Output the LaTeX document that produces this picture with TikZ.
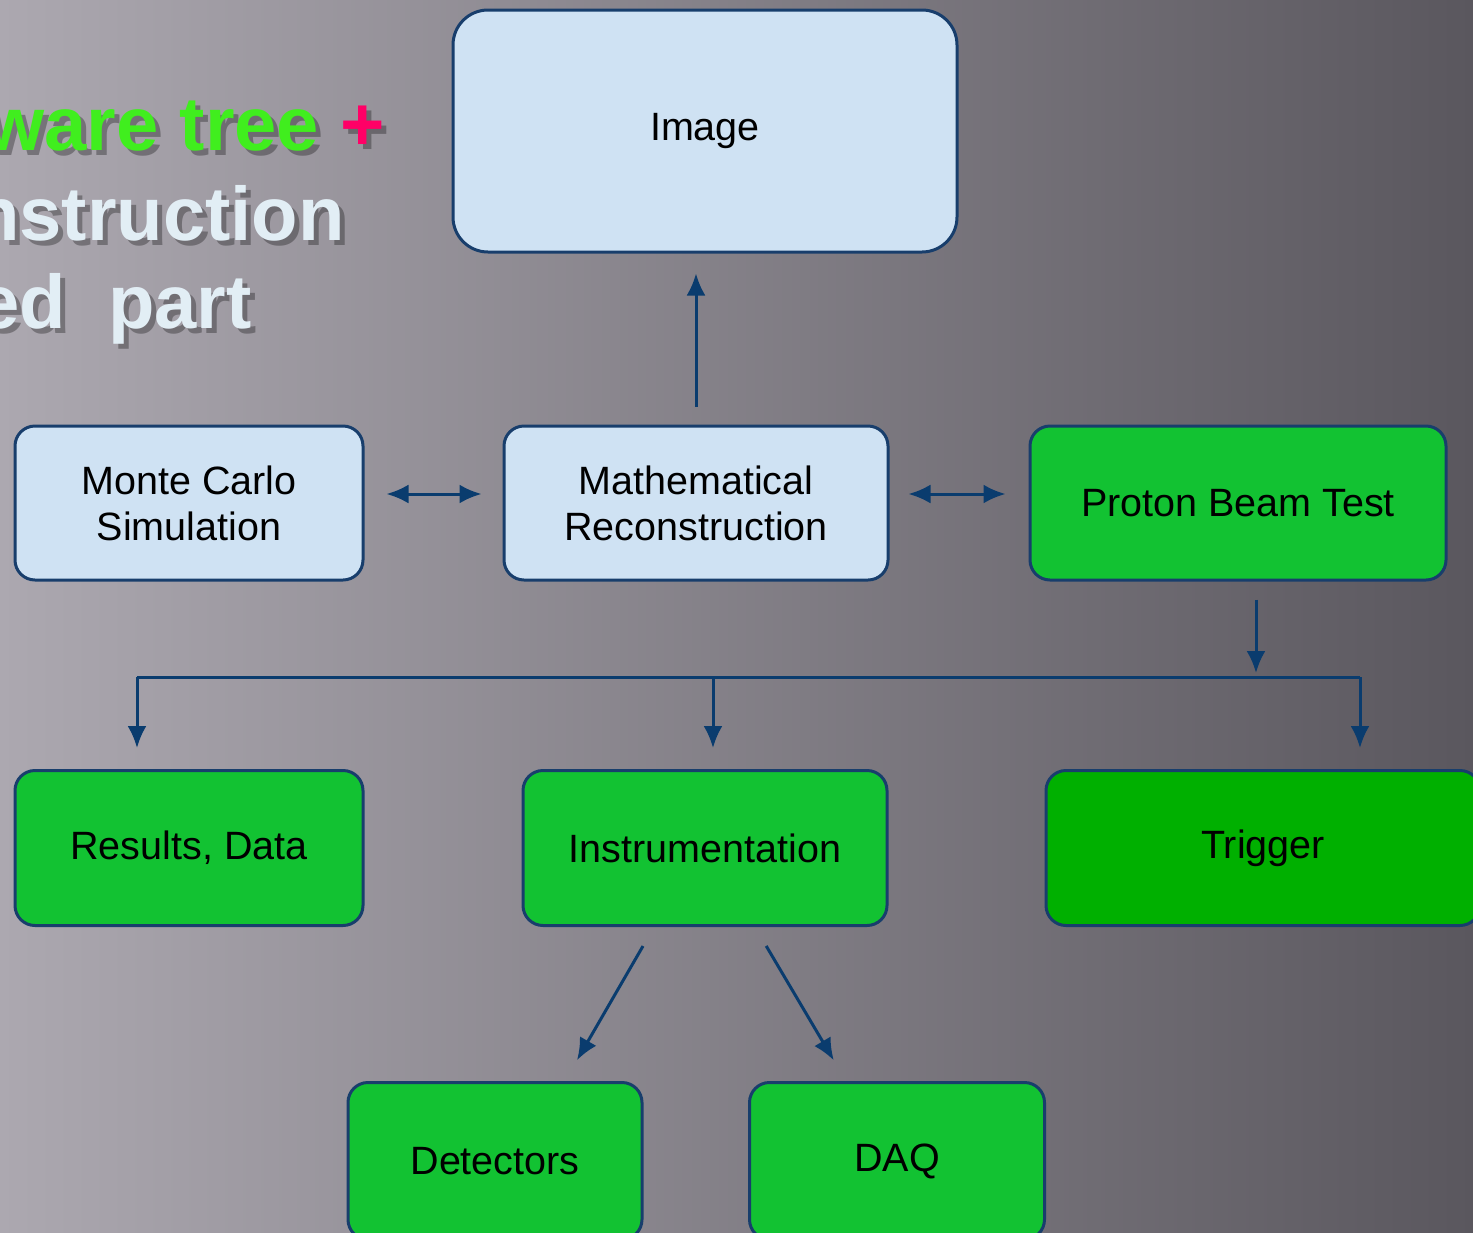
\documentclass[tikz,border=0pt]{standalone}
\usepackage{fontspec}
\setmainfont{Liberation Sans}
\usetikzlibrary{positioning,arrows.meta}
\definecolor{bgL}{RGB}{172,168,176}
\definecolor{bgM}{RGB}{138,134,142}
\definecolor{bgR}{RGB}{90,87,94}
\definecolor{boxblue}{RGB}{207,226,243}
\definecolor{boxgreen}{RGB}{18,194,50}
\definecolor{boxdark}{RGB}{0,176,0}
\definecolor{boxline}{RGB}{24,62,108}
\definecolor{arrcol}{RGB}{10,60,110}
\definecolor{headgreen}{RGB}{64,238,30}
\definecolor{headpink}{RGB}{255,0,102}
\definecolor{headwhite}{RGB}{226,238,245}
\begin{document}
\begin{tikzpicture}[x=1pt,y=-1pt,
  box/.style={draw=boxline,line width=3pt,rounded corners=20pt,inner sep=0pt,align=center,
    font=\fontsize{39.5}{46}\selectfont},
  bluebox/.style={box,fill=boxblue},
  greenbox/.style={box,fill=boxgreen},
  darkbox/.style={box,fill=boxdark},
  arr/.style={draw=arrcol,line width=3pt,-{Latex[length=22pt,width=19pt]}},
  twoarr/.style={draw=arrcol,line width=3pt,{Latex[length=22pt,width=19pt]}-{Latex[length=22pt,width=19pt]}},
  head/.style={anchor=base east,inner sep=0pt,font=\fontsize{76}{80}\selectfont\bfseries},
  shadow/.style={head,text=black,opacity=0.3}]
  % Frame and background
  \useasboundingbox (0,0) rectangle (1473,1232);
  \clip (0,0) rectangle (1473,1232);
  \shade[left color=bgL,middle color=bgM,right color=bgR] (0,0) rectangle (1473,1232);
  % Heading with shadow
  \node[shadow] (s1) at (390,155) {ware tree +};
  \node[shadow] (s2) at (350,245) {nstruction};
  \node[shadow] (s3) at (257,333) {ed\ \ part};
  \node[head] (h1) at (385,150) {\textcolor{headgreen}{ware tree} \textcolor{headpink}{+}};
  \node[head,text=headwhite] (h2) at (345,240) {nstruction};
  \node[head,text=headwhite] (h3) at (252,328) {ed\ \ part};
  % Boxes
  \node[bluebox,minimum width=504pt,minimum height=242pt,rounded corners=35pt] (image) at (705,131) {Image};
  \node[bluebox,minimum width=348pt,minimum height=154pt] (mc) at (189,503) {Monte Carlo\\Simulation};
  \node[bluebox,minimum width=384pt,minimum height=154pt] (math) at (696,503) {Mathematical\\Reconstruction};
  \node[greenbox,minimum width=416pt,minimum height=154pt] (pbt) at (1238,503) {Proton Beam Test};
  \node[greenbox,minimum width=348pt,minimum height=155pt] (rd) at (189,848) {Results, Data};
  \node[greenbox,minimum width=364pt,minimum height=155pt] (inst) at (705,848) {Instrumentation};
  \node[darkbox,minimum width=434pt,minimum height=155pt] (trig) at (1263,848) {Trigger};
  \node[greenbox,minimum width=294pt,minimum height=157pt] (det) at (495,1161) {Detectors};
  \node[greenbox,minimum width=295pt,minimum height=157pt] (daq) at (897,1161) {DAQ};
  % Arrows between boxes
  \draw[arr,shorten <=18pt,shorten >=20pt] (math.north) -- (math.north |- image.south);
  \draw[twoarr,shorten <=22pt,shorten >=21pt] ([yshift=9pt]mc.east) -- ([yshift=9pt]math.west);
  \draw[twoarr,shorten <=19pt,shorten >=23pt] ([yshift=9pt]math.east) -- ([yshift=9pt]pbt.west);
  % Tree under Proton Beam Test
  \coordinate (bus) at (1256,677);
  \coordinate (busL) at (137,677);
  \coordinate (busM) at (713,677);
  \coordinate (busR) at (1360,677);
  \draw[arr,shorten <=18pt,shorten >=4pt] (pbt.south -| bus) -- (bus);
  \draw[draw=arrcol,line width=3pt] (busL) -- (busR);
  \foreach \b/\n in {busL/rd,busM/inst,busR/trig} {\draw[arr,shorten >=21pt] (\b) -- (\b |- \n.north);}
  % Diagonal arrows
  \draw[arr,shorten <=22pt,shorten >=24pt] ([xshift=-51pt]inst.south) -- ([xshift=70pt]det.north);
  \draw[arr,shorten <=22pt,shorten >=24pt] ([xshift=50pt]inst.south) -- ([xshift=-51pt]daq.north);
\end{tikzpicture}
\end{document}
